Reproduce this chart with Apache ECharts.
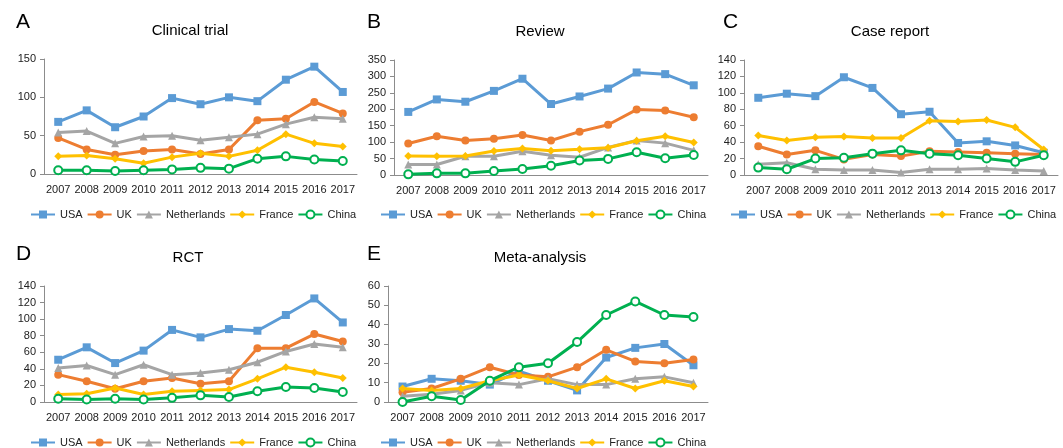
<!DOCTYPE html>
<html>
<head>
<meta charset="utf-8">
<script src="https://cdn.jsdelivr.net/npm/echarts@6/dist/echarts.min.js"></script>
<style>
html,body{margin:0;padding:0;background:#fff;}
#chart{width:1063px;height:448px;}
</style>
</head>
<body>
<div id="chart"></div>
<script>
const years = ['2007','2008','2009','2010','2011','2012','2013','2014','2015','2016','2017'];
const countries = ['USA','UK','Netherlands','France','China'];

// A: Clinical trial
const clinicalUSA = [68,83,61,75,99,91,100,95,123,140,107];
const clinicalUK = [47,32,25,30,32,26,32,70,72,94,79];
const clinicalNL = [54,56,40,49,50,44,48,52,65,74,72];
const clinicalFR = [23,24,20,14,22,27,23,31,52,40,36];
const clinicalCN = [5,5,4,5,6,8,7,20,23,19,17];

// B: Review
const reviewUSA = [192,230,223,256,293,216,239,263,312,307,273];
const reviewUK = [96,118,105,110,122,105,132,153,199,196,176];
const reviewNL = [32,32,57,57,72,60,54,84,105,97,75];
const reviewFR = [58,57,58,73,81,74,78,83,104,118,99];
const reviewCN = [2,5,5,12,18,28,44,49,69,51,61];

// C: Case report
const caseUSA = [94,99,96,119,106,74,77,39,41,36,27];
const caseUK = [35,25,30,19,25,23,29,28,27,26,25];
const caseNL = [13,15,7,6,6,3,7,7,8,6,5];
const caseFR = [48,42,46,47,45,45,66,65,67,58,31];
const caseCN = [9,7,20,21,26,30,26,24,20,16,24];

// D: RCT
const rctUSA = [51,66,47,62,87,78,88,86,105,125,96];
const rctUK = [33,25,16,25,29,22,25,65,65,82,73];
const rctNL = [41,44,33,45,33,35,39,48,61,70,66];
const rctFR = [9,10,17,9,13,14,15,28,42,36,29];
const rctCN = [4,3,4,3,5,8,6,13,18,17,12];

// E: Meta-analysis
const metaUSA = [8,12,11,9,16,11,6,23,28,30,19];
const metaUK = [5,7,12,18,14,13,18,27,21,20,22];
const metaNL = [3,4,6,10,9,12,9,9,12,13,10];
const metaFR = [7,6,7,11,14,11,7,12,7,11,8];
const metaCN = [0,3,1,11,18,20,31,45,52,45,44];

const panelTitles = ['Clinical trial','Review','Case report','RCT','Meta-analysis'];
const panelLetters = ['A','B','C','D','E'];
const yMax = [150,350,140,140,60];
const yInterval = [50,50,20,20,10];
const panelData = [
  [clinicalUSA,clinicalUK,clinicalNL,clinicalFR,clinicalCN],
  [reviewUSA,reviewUK,reviewNL,reviewFR,reviewCN],
  [caseUSA,caseUK,caseNL,caseFR,caseCN],
  [rctUSA,rctUK,rctNL,rctFR,rctCN],
  [metaUSA,metaUK,metaNL,metaFR,metaCN]
];

const colors = ['#5B9BD5','#ED7D31','#A5A5A5','#FFC000','#00B050'];
const symbols = ['rect','circle','triangle','diamond','emptyCircle'];
const symbolSizes = [8,8,8,8,8];

// layout
const grids = [
  {left:44, top:59, width:313, height:115},
  {left:394, top:60, width:314, height:115},
  {left:744, top:60, width:314, height:115},
  {left:44, top:286, width:313, height:116},
  {left:388, top:286, width:320, height:116}
];
const titleCenters = [190, 540, 890, 188, 540];
const titleTops = [23, 24, 24, 250, 250];
const letterLefts = [16, 367, 723, 16, 367];
const letterTops = [12, 12, 12, 244, 244];
const legendLefts = [30, 380, 730, 30, 380];
const legendTops = [209, 209, 209, 437, 437];

const titles = [];
const xAxes = [], yAxes = [], series = [], legends = [];
for (let p = 0; p < 5; p++) {
  titles.push({
    text: panelTitles[p], left: titleCenters[p], top: titleTops[p], textAlign: 'center', padding: 0,
    textStyle: {fontFamily: 'Liberation Sans', fontSize: 15, fontWeight: 'normal', color: '#000'}
  });
  titles.push({
    text: panelLetters[p], left: letterLefts[p], top: letterTops[p], padding: 0,
    textStyle: {fontFamily: 'Liberation Sans', fontSize: 21, fontWeight: 'normal', color: '#000'}
  });
  xAxes.push({
    type: 'category', gridIndex: p, data: years, boundaryGap: true,
    axisLine: {lineStyle: {color: '#8c8c8c', width: 1}},
    axisTick: {show: false},
    axisLabel: {fontFamily: 'Liberation Sans', fontSize: 11, color: '#222', margin: 10, interval: 0}
  });
  yAxes.push({
    type: 'value', gridIndex: p, min: 0, max: yMax[p], interval: yInterval[p],
    axisLine: {show: true, lineStyle: {color: '#8c8c8c', width: 1}},
    axisTick: {show: true, length: 4, lineStyle: {color: '#8c8c8c'}},
    splitLine: {show: false},
    axisLabel: {fontFamily: 'Liberation Sans', fontSize: 11, color: '#222', margin: 8}
  });
  for (let c = 0; c < 5; c++) {
    series.push({
      name: countries[c], type: 'line', xAxisIndex: p, yAxisIndex: p,
      data: panelData[p][c],
      symbol: symbols[c], symbolSize: symbolSizes[c],
      lineStyle: {color: colors[c], width: 3},
      itemStyle: {color: colors[c], borderWidth: c === 4 ? 1.5 : 0},
      emphasis: {disabled: true},
      z: 2 + c
    });
  }
  legends.push({
    data: countries, left: legendLefts[p], top: legendTops[p], width: 1063 - legendLefts[p],
    itemWidth: 24, itemHeight: 10, itemGap: 4, padding: 0,
    textStyle: {fontFamily: 'Liberation Sans', fontSize: 11, color: '#222'}
  });
}

const chart = echarts.init(document.getElementById('chart'), null, {renderer: 'canvas'});
chart.setOption({
  backgroundColor: '#fff',
  animation: false,
  color: colors,
  title: titles,
  grid: grids,
  xAxis: xAxes,
  yAxis: yAxes,
  legend: legends,
  series: series
});
</script>
</body>
</html>
